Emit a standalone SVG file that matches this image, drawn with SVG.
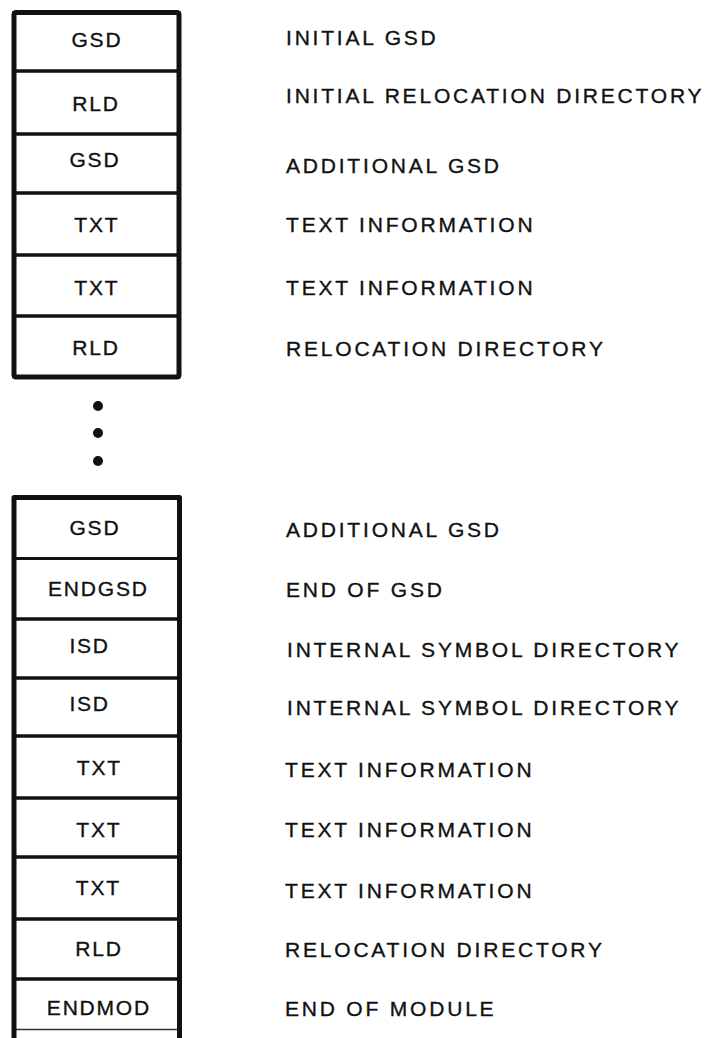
<svg xmlns="http://www.w3.org/2000/svg" width="709" height="1038" viewBox="0 0 709 1038">
<style>
.row{fill:none;stroke:#111;stroke-width:3}
.frame{fill:none;stroke:#111;stroke-width:5;stroke-linejoin:round}
.bt{font-family:"Liberation Sans",Arial,sans-serif;font-size:21px;fill:#111;stroke:#111;stroke-width:0.35;text-anchor:middle;letter-spacing:1.8px}
.lb{font-family:"Liberation Sans",Arial,sans-serif;font-size:21px;fill:#111;stroke:#111;stroke-width:0.35;letter-spacing:2.8px}
.dot{fill:#111}
</style>
<rect width="709" height="1038" fill="#fff"/>
<g id="top-stack">
<g id="n1"><rect class="row" x="14" y="12.5" width="165" height="58.5"/><text class="bt" x="96.9" y="47">GSD</text><text class="lb" x="286" y="45">INITIAL GSD</text></g>
<g id="n2"><rect class="row" x="14" y="71" width="165" height="63"/><text class="bt" x="95.9" y="111">RLD</text><text class="lb" x="286" y="103">INITIAL RELOCATION DIRECTORY</text></g>
<g id="n3"><rect class="row" x="14" y="134" width="165" height="59"/><text class="bt" x="94.9" y="167">GSD</text><text class="lb" x="286" y="173">ADDITIONAL GSD</text></g>
<g id="n4"><rect class="row" x="14" y="193" width="165" height="62"/><text class="bt" x="96.9" y="232">TXT</text><text class="lb" x="286" y="232">TEXT INFORMATION</text></g>
<g id="n5"><rect class="row" x="14" y="255" width="165" height="61"/><text class="bt" x="96.9" y="295">TXT</text><text class="lb" x="286" y="295">TEXT INFORMATION</text></g>
<g id="n6"><rect class="row" x="14" y="316" width="165" height="61"/><text class="bt" x="95.9" y="355">RLD</text><text class="lb" x="286" y="356">RELOCATION DIRECTORY</text></g>
<rect id="top-frame" class="frame" x="14" y="12.5" width="165" height="364.5" rx="2"/>
</g>
<g id="ellipsis">
<circle class="dot" cx="98" cy="406" r="5"/>
<circle class="dot" cx="98" cy="433" r="5"/>
<circle class="dot" cx="98" cy="461" r="5"/>
</g>
<g id="bottom-stack">
<g id="n7"><rect class="row" x="14" y="497.5" width="165.5" height="61"/><text class="bt" x="94.9" y="535">GSD</text><text class="lb" x="286" y="537">ADDITIONAL GSD</text></g>
<g id="n8"><rect class="row" x="14" y="558.5" width="165.5" height="60.5"/><text class="bt" x="98.4" y="596">ENDGSD</text><text class="lb" x="286" y="597">END OF GSD</text></g>
<g id="n9"><rect class="row" x="14" y="619" width="165.5" height="59"/><text class="bt" x="89.6" y="653">ISD</text><text class="lb" x="287" y="657">INTERNAL SYMBOL DIRECTORY</text></g>
<g id="n10"><rect class="row" x="14" y="678" width="165.5" height="58"/><text class="bt" x="89.6" y="711">ISD</text><text class="lb" x="287" y="715">INTERNAL SYMBOL DIRECTORY</text></g>
<g id="n11"><rect class="row" x="14" y="736" width="165.5" height="62"/><text class="bt" x="99.4" y="775">TXT</text><text class="lb" x="285" y="777">TEXT INFORMATION</text></g>
<g id="n12"><rect class="row" x="14" y="798" width="165.5" height="59"/><text class="bt" x="98.9" y="837">TXT</text><text class="lb" x="285" y="837">TEXT INFORMATION</text></g>
<g id="n13"><rect class="row" x="14" y="857" width="165.5" height="62"/><text class="bt" x="98.4" y="895">TXT</text><text class="lb" x="285" y="898">TEXT INFORMATION</text></g>
<g id="n14"><rect class="row" x="14" y="919" width="165.5" height="60"/><text class="bt" x="98.9" y="956">RLD</text><text class="lb" x="285" y="957">RELOCATION DIRECTORY</text></g>
<g id="n15"><line x1="14" y1="979" x2="179.5" y2="979" stroke="#111" stroke-width="3"/><line x1="14" y1="1029.5" x2="179.5" y2="1029.5" stroke="#333" stroke-width="1.5"/><text class="bt" x="98.9" y="1015">ENDMOD</text><text class="lb" x="285" y="1016">END OF MODULE</text></g>
<path id="bottom-frame" class="frame" d="M14,1038 V497.5 H179.5 V1038"/>
</g>
<g id="connectors"/>
</svg>
